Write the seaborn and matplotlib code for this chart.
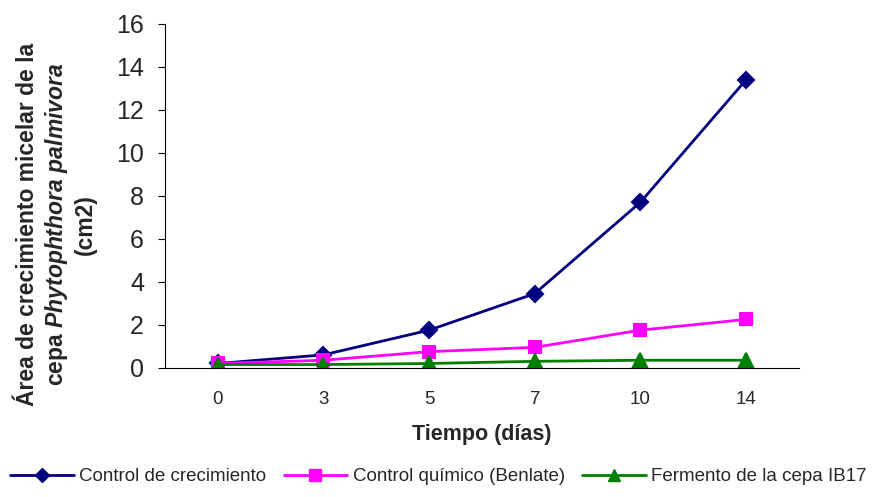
import matplotlib
matplotlib.use("Agg")
import matplotlib.pyplot as plt
import seaborn as sns
import pandas as pd
from matplotlib.lines import Line2D
from matplotlib import font_manager

dias = ["0", "3", "5", "7", "10", "14"]
control_crecimiento = [0.2, 0.6, 1.75, 3.45, 7.7, 13.4]
control_quimico = [0.2, 0.35, 0.75, 0.95, 1.75, 2.25]
fermento_ib17 = [0.15, 0.15, 0.2, 0.3, 0.35, 0.35]
series = ["Control de crecimiento", "Control químico (Benlate)", "Fermento de la cepa IB17"]
colores = ["#000080", "#FF00FF", "#008000"]
marcadores = ["D", "s", "^"]
yticks = [0, 2, 4, 6, 8, 10, 12, 14, 16]

df = pd.DataFrame({
    "dia": dias * 3,
    "valor": control_crecimiento + control_quimico + fermento_ib17,
    "serie": [series[0]] * 6 + [series[1]] * 6 + [series[2]] * 6,
})

sns.set_style("white")
plt.rcParams["font.family"] = ["Liberation Sans", "DejaVu Sans"]
plt.rcParams["mathtext.fontset"] = "custom"
plt.rcParams["mathtext.it"] = "Liberation Sans:italic:bold"
plt.rcParams["mathtext.rm"] = "Liberation Sans:bold"

names = {f.name for f in font_manager.fontManager.ttflist}
legend_font = "Liberation Sans Narrow" if "Liberation Sans Narrow" in names else "Liberation Sans"

fig = plt.figure(figsize=(8.77, 4.97), dpi=100)
ax = fig.add_axes([0.188, 0.26, 0.723, 0.692])

sizes = {"D": 8, "s": 9, "^": 10}
for s, c, m in zip(series, colores, marcadores):
    sub = df[df["serie"] == s]
    sns.pointplot(data=sub, x="dia", y="valor", order=dias, color=c, marker=m,
                  markersize=sizes[m], linewidth=2, errorbar=None, ax=ax)

ax.set_ylim(0, 16)
ax.set_xlim(-0.5, 5.5)
ax.set_yticks(yticks)
ax.set_yticklabels([str(v) for v in yticks], fontsize=18)
ax.set_xticks(range(len(dias)))
ax.set_xticklabels(dias, fontsize=13.5)
ax.set_xticks([i - 0.5 for i in range(len(dias) + 1)], minor=True)
ax.tick_params(axis="x", which="major", length=0, pad=17)
ax.tick_params(axis="x", which="minor", length=5, width=0.8, direction="out", color="black")
ax.tick_params(axis="y", length=5, width=0.8, direction="out", color="black", left=True, pad=10)

for sp in ["top", "right"]:
    ax.spines[sp].set_visible(False)
for sp in ["left", "bottom"]:
    ax.spines[sp].set_color("black")
    ax.spines[sp].set_linewidth(0.8)

ax.set_xlabel("Tiempo (días)", fontsize=15.5, fontweight="bold", labelpad=11)
ax.set_ylabel("Área de crecimiento micelar de la\ncepa $\\it{Phytophthora\\ palmivora}$\n(cm2)",
              fontsize=16.5, fontweight="bold", linespacing=1.2)
ax.yaxis.set_label_coords(-0.107, 0.416)

handles = [Line2D([0], [0], color=c, marker=m, markersize=sizes[m] * 0.9, linewidth=2)
           for c, m in zip(colores, marcadores)]
fig.legend(handles, series, loc="lower center", bbox_to_anchor=(0.5, -0.01), ncol=3,
           frameon=False, handlelength=3.4, handletextpad=0.3, columnspacing=0.9,
           prop={"family": legend_font, "size": 13.5})

fig.savefig("out.png", dpi=100)
